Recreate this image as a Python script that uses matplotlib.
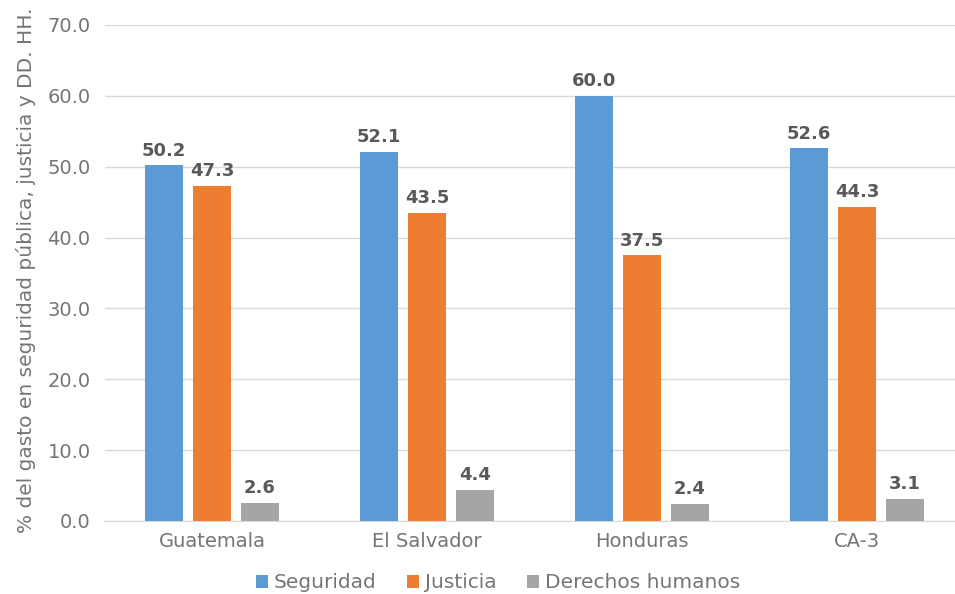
import numpy as np
from matplotlib import pyplot as plt

paises = ["Guatemala", "El Salvador", "Honduras", "CA-3"]
seguridad = [50.2, 52.1, 60.0, 52.6]
justicia = [47.3, 43.5, 37.5, 44.3]
ddhh = [2.6, 4.4, 2.4, 3.1]
series = ["Seguridad", "Justicia", "Derechos humanos"]
colores = ["#5B9BD5", "#ED7D31", "#A5A5A5"]

plt.rcParams['font.family'] = ['DejaVu Sans']
gris = "#595959"
gris_claro = "#757575"

fig = plt.figure(figsize=(9.55, 5.94), dpi=100)
ax = fig.add_axes([104.5/955, 1-521/594, 860/955, 496/594])

x = np.arange(len(paises))
w = 0.177
step = 0.223
for i, (vals, nombre, c) in enumerate(zip([seguridad, justicia, ddhh], series, colores)):
    pos = x + (i-1)*step
    ax.bar(pos, vals, w, color=c, label=nombre, zorder=3)
    for p, v in zip(pos, vals):
        ax.text(p, v+0.8, "%.1f" % v, ha='center', va='bottom', fontsize=13,
                fontweight='bold', color=gris, zorder=4)

ax.set_xlim(-0.5, 3.5)
ax.set_ylim(0, 70)
ax.set_yticks(np.arange(0, 71, 10))
ax.set_yticklabels(["%.1f" % t for t in np.arange(0, 71, 10)])
ax.set_xticks(x)
ax.set_xticklabels(paises)
ax.tick_params(axis='both', length=0, labelsize=14, labelcolor=gris_claro)
ax.tick_params(axis='x', pad=8)
ax.tick_params(axis='y', pad=10)
ax.grid(axis='y', color='#D9D9D9', lw=1, zorder=0)
for s in ['top', 'right', 'left']:
    ax.spines[s].set_visible(False)
ax.spines['bottom'].set_color('#D9D9D9')
ax.set_ylabel("% del gasto en seguridad pública, justicia y DD. HH.", fontsize=14.5, color=gris_claro)
ax.yaxis.set_label_coords(-0.08, 0.506)

fig.legend(loc='center', bbox_to_anchor=(498/955, 1-583/594), ncol=3, frameon=False,
           fontsize=14.5, handlelength=0.6, handleheight=0.6, handletextpad=0.3,
           columnspacing=1.5, labelcolor=gris_claro)

fig.savefig("out.png", dpi=100)
